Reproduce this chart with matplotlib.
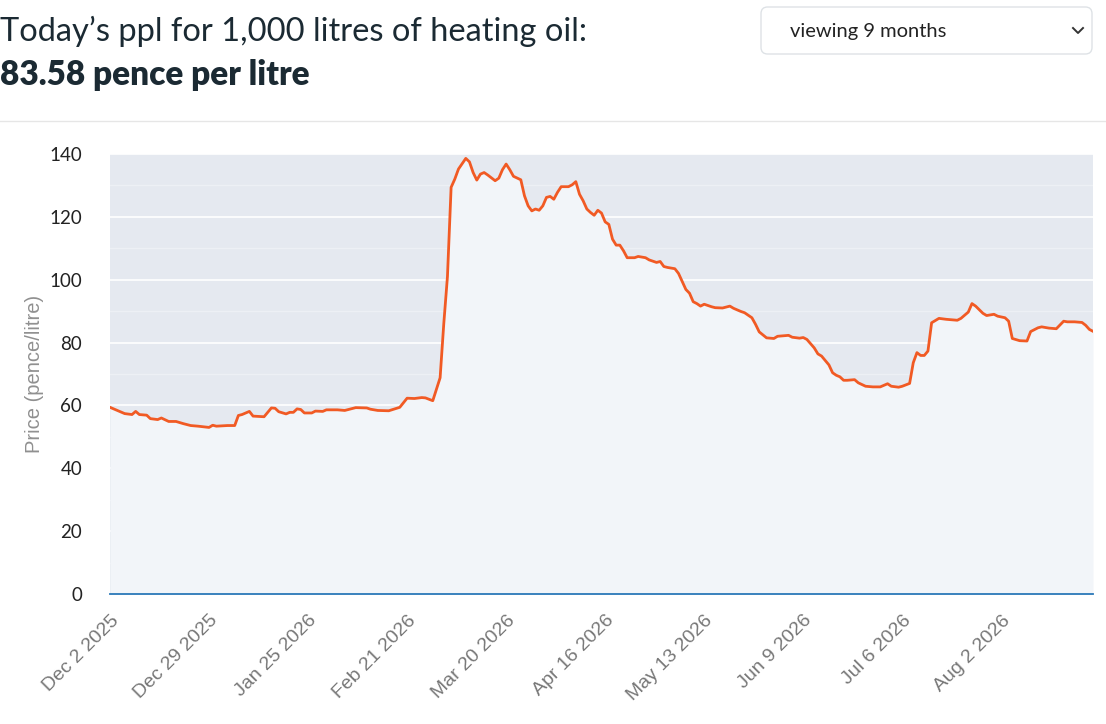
import matplotlib
matplotlib.use("Agg")
import matplotlib.pyplot as plt
import matplotlib.dates as mdates
from matplotlib.patches import FancyBboxPatch
from matplotlib.lines import Line2D
import numpy as np

# Data: days since Dec 2 2025 and price in pence per litre
start_date = "2025-12-02"
end_offset = 268
day_offsets = [0, 1, 4, 6, 7, 8, 10, 11, 13, 14, 16, 18, 20, 22, 24, 27, 28, 29, 32, 34,
               35, 36, 38, 39, 42, 44, 45, 46, 48, 49, 50, 51, 52, 53, 55, 56, 58, 59, 62, 64,
               67, 70, 71, 73, 76, 79, 81, 83, 85, 86, 88, 90, 91, 92, 93, 94, 95, 97, 98, 99,
               100, 101, 102, 103, 105, 106, 107, 108, 109, 110, 112, 113, 114, 115, 116, 117, 118, 119, 120, 121,
               122, 123, 125, 126, 127, 128, 129, 130, 131, 132, 133, 134, 135, 136, 137, 138, 139, 140, 141, 143,
               144, 146, 147, 149, 150, 151, 152, 154, 155, 157, 158, 159, 160, 161, 162, 164, 165, 167, 169, 170,
               172, 173, 175, 176, 177, 179, 181, 182, 185, 186, 188, 189, 190, 192, 193, 194, 196, 197, 198, 199,
               200, 201, 203, 204, 206, 208, 210, 212, 213, 215, 216, 218, 219, 220, 221, 222, 223, 224, 226, 228,
               231, 232, 234, 235, 236, 238, 239, 241, 242, 244, 245, 246, 248, 250, 251, 253, 254, 256, 258, 260,
               261, 263, 265, 266, 267, 268]
prices = [59.4, 58.9, 57.4, 57.1, 58.1, 57.1, 56.9, 55.8, 55.5, 56.0, 54.9, 54.9, 54.2, 53.6, 53.4, 53.0, 53.7, 53.4, 53.6, 53.6,
          56.8, 57.1, 58.1, 56.6, 56.4, 59.2, 59.1, 58.0, 57.3, 57.8, 57.8, 58.9, 58.7, 57.6, 57.6, 58.2, 58.1, 58.6, 58.6, 58.4,
          59.3, 59.2, 58.8, 58.4, 58.3, 59.4, 62.3, 62.2, 62.5, 62.4, 61.5, 68.8, 86.0, 101.0, 129.4, 132.0, 135.2, 138.6, 137.5, 134.1,
          131.7, 133.6, 134.1, 133.3, 131.5, 132.3, 135.0, 136.8, 135.0, 132.9, 131.8, 126.7, 123.5, 121.9, 122.5, 122.1, 123.5, 126.2, 126.5, 125.6,
          127.8, 129.6, 129.6, 130.2, 131.2, 127.2, 125.1, 122.5, 121.4, 120.5, 122.1, 121.2, 118.4, 117.6, 112.9, 111.0, 111.0, 109.2, 107.0, 107.0,
          107.4, 107.0, 106.3, 105.5, 105.8, 104.2, 103.9, 103.5, 102.0, 96.9, 95.7, 93.0, 92.4, 91.6, 92.2, 91.4, 91.1, 91.0, 91.6, 90.9,
          89.9, 89.5, 87.9, 85.8, 83.4, 81.5, 81.3, 82.0, 82.3, 81.7, 81.4, 81.6, 81.0, 78.3, 76.4, 75.7, 72.9, 70.4, 69.6, 69.1,
          68.0, 68.0, 68.2, 67.2, 66.1, 65.9, 65.9, 66.9, 66.1, 65.8, 66.1, 67.0, 73.6, 76.8, 75.9, 75.9, 77.3, 86.3, 87.7, 87.4,
          87.1, 87.7, 89.7, 92.4, 91.6, 89.3, 88.6, 89.0, 88.4, 87.9, 86.8, 81.3, 80.6, 80.5, 83.5, 84.7, 85.0, 84.6, 84.4, 86.8,
          86.6, 86.6, 86.4, 85.5, 84.2, 83.58]
tick_step_days = 27
y_ticks = [0, 20, 40, 60, 80, 100, 120, 140]

title_text = "Today\u2019s ppl for 1,000 litres of heating oil:"
price_text = "83.58 pence per litre"
dropdown_text = "viewing 9 months"

W, H = 1106, 724
fig = plt.figure(figsize=(W / 100, H / 100), dpi=100)
fig.patch.set_facecolor("white")

ax = fig.add_axes([110 / W, 1 - 594 / H, 983 / W, 440 / H])
ax.set_facecolor("#e5e9f0")

start = np.datetime64(start_date)
dates = start + np.array(day_offsets).astype("timedelta64[D]")
dates = dates.astype("datetime64[D]").astype(object)

ax.fill_between(dates, prices, 0, color="#f2f5f9", zorder=2, linewidth=0)
ax.plot(dates, prices, color="#f15a24", linewidth=2.0, zorder=3, solid_joinstyle="round")
ax.axhline(0, color="#2a78b8", linewidth=1.3, zorder=4, clip_on=False)

ax.set_ylim(0, 140)
ax.set_xlim(start.astype(object), (start + np.timedelta64(end_offset, "D")).astype(object))

# grid: strong at 20s, faint at 10s
ax.set_yticks(y_ticks)
ax.set_yticks(np.arange(10, 140, 20), minor=True)
ax.grid(axis="y", which="major", color="white", linewidth=1.2, zorder=1)
ax.grid(axis="y", which="minor", color="#edf0f5", linewidth=1.0, zorder=1)
ax.grid(axis="x", visible=False)
ax.set_axisbelow(True)

tick_dates = [(start + np.timedelta64(d, "D")).astype(object) for d in range(0, end_offset, tick_step_days)]
ax.set_xticks(tick_dates)
ax.xaxis.set_major_formatter(mdates.DateFormatter("%b %-d %Y"))

for s in ax.spines.values():
    s.set_visible(False)

ax.tick_params(axis="y", which="both", length=0, pad=20, labelsize=13.5, labelcolor="#222222")
ax.tick_params(axis="x", length=0, pad=13, labelsize=14, labelcolor="#777777")
for lbl in ax.get_yticklabels():
    lbl.set_fontfamily("Lato")
for lbl in ax.get_xticklabels():
    lbl.set_fontfamily("Liberation Sans")
    lbl.set_rotation(45)
    lbl.set_ha("right")
    lbl.set_rotation_mode("anchor")

ax.set_ylabel("Price (pence/litre)", fontsize=14.5, color="#909090", family="Liberation Sans")
ax.yaxis.set_label_coords(-66 / 983, 0.5)

# header
fig.text(0 / W, 1 - 31 / H, title_text, fontsize=23.5, family="Lato", color="#1b2a33", va="center", ha="left")
fig.text(0 / W, 1 - 75 / H, price_text, fontsize=24, family="Lato", weight="heavy", color="#1b2a33",
         va="center", ha="left")
fig.add_artist(Line2D([0, 1], [1 - 121 / H, 1 - 121 / H], transform=fig.transFigure, color="#e6e6e6", linewidth=1))

# dropdown box
box = FancyBboxPatch((761 / W, 1 - 54 / H), 331 / W, 47 / H, boxstyle="round,pad=0,rounding_size=0.006",
                     transform=fig.transFigure, facecolor="white", edgecolor="#dee2e6", linewidth=1,
                     mutation_aspect=W / H)
fig.add_artist(box)
fig.text(790 / W, 1 - 31 / H, dropdown_text, fontsize=14.5, family="Lato", color="#222222", va="center", ha="left")
fig.add_artist(Line2D([1073 / W, 1078 / W, 1083 / W], [1 - 28 / H, 1 - 33 / H, 1 - 28 / H],
                      transform=fig.transFigure, color="#333333", linewidth=1.4))

fig.savefig("out.png", dpi=100)
